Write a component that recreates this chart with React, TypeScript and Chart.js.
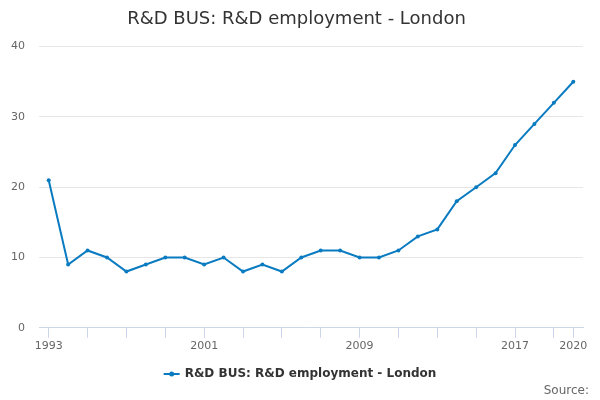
import React, { useEffect, useRef } from "react";
import { Chart, registerables } from "chart.js";

Chart.register(...registerables);

const TITLE = "R&D BUS: R&D employment - London";
const SERIES_NAME = "R&D BUS: R&D employment - London";
const SOURCE_TEXT = "Source:";

const years = [
  1993, 1994, 1995, 1996, 1997, 1998, 1999, 2000, 2001, 2002, 2003, 2004, 2005, 2006,
  2007, 2008, 2009, 2010, 2011, 2012, 2013, 2014, 2015, 2016, 2017, 2018, 2019, 2020,
];
const values = [
  21, 9, 11, 10, 8, 9, 10, 10, 9, 10, 8, 9, 8, 10,
  11, 11, 10, 10, 11, 13, 14, 18, 20, 22, 26, 29, 32, 35,
];
const tickYears = [
  1993, 1995, 1997, 1999, 2001, 2003, 2005, 2007, 2009, 2011, 2013, 2015, 2017, 2019, 2020,
];
const labelYears = [1993, 2001, 2009, 2017, 2020];
const yTicks = [0, 10, 20, 30, 40];

const LINE_COLOR = "#0a7bc1";
const FONT = "'DejaVu Sans', 'Noto Sans', sans-serif";

const legendSourcePlugin = {
  id: "legendSource",
  afterDraw(chart: any) {
    const ctx = chart.ctx as CanvasRenderingContext2D;
    const w = chart.width;
    const h = chart.height;
    ctx.save();
    ctx.font = `bold 12px ${FONT}`;
    const tw = ctx.measureText(SERIES_NAME).width;
    const symW = 16;
    const gap = 5;
    const total = symW + gap + tw;
    const x0 = w / 2 - total / 2;
    const y = h - 26;
    ctx.strokeStyle = LINE_COLOR;
    ctx.lineWidth = 2;
    ctx.beginPath();
    ctx.moveTo(x0, y);
    ctx.lineTo(x0 + symW, y);
    ctx.stroke();
    ctx.fillStyle = LINE_COLOR;
    ctx.beginPath();
    ctx.arc(x0 + symW / 2, y, 2.5, 0, Math.PI * 2);
    ctx.fill();
    ctx.fillStyle = "#333333";
    ctx.textBaseline = "middle";
    ctx.textAlign = "left";
    ctx.fillText(SERIES_NAME, x0 + symW + gap, y);
    ctx.font = `12px ${FONT}`;
    ctx.fillStyle = "#666666";
    ctx.textAlign = "right";
    ctx.fillText(SOURCE_TEXT, w - 11, h - 9);
    ctx.restore();
  },
};

export default function App() {
  const ref = useRef<HTMLCanvasElement | null>(null);

  useEffect(() => {
    document.body.style.margin = "0";
    const canvas = ref.current;
    if (!canvas) return;
    const chart = new Chart(canvas, {
      type: "line",
      data: {
        datasets: [
          {
            label: SERIES_NAME,
            data: years.map((yr, i) => ({ x: yr, y: values[i] })),
            borderColor: LINE_COLOR,
            backgroundColor: LINE_COLOR,
            borderWidth: 2,
            pointRadius: 2,
            pointBorderWidth: 0,
            pointBackgroundColor: LINE_COLOR,
            tension: 0,
          },
        ],
      },
      options: {
        animation: false,
        responsive: false,
        maintainAspectRatio: false,
        layout: { padding: { left: 10, right: 17, top: 0, bottom: 45 } },
        plugins: {
          legend: { display: false },
          tooltip: { enabled: false },
          title: {
            display: true,
            text: TITLE,
            color: "#333333",
            font: { family: FONT, size: 18, weight: "normal" },
            padding: { top: 9, bottom: 16 },
          },
        },
        scales: {
          x: {
            type: "linear",
            min: years[0] - 0.5,
            max: years[years.length - 1] + 0.5,
            afterBuildTicks: (axis: any) => {
              axis.ticks = tickYears.map((v) => ({ value: v }));
            },
            ticks: {
              autoSkip: false,
              maxRotation: 0,
              padding: 2,
              color: "#666666",
              font: { family: FONT, size: 11 },
              callback: (v: any) => (labelYears.includes(Number(v)) ? String(v) : ""),
            },
            grid: {
              drawOnChartArea: false,
              color: "#ccd6eb",
              tickLength: 10,
            },
            border: { color: "#ccd6eb", width: 1 },
          },
          y: {
            min: 0,
            max: 40,
            afterBuildTicks: (axis: any) => {
              axis.ticks = yTicks.map((v) => ({ value: v }));
            },
            afterFit: (axis: any) => {
              axis.width = 29;
            },
            ticks: {
              padding: 14,
              color: "#666666",
              font: { family: FONT, size: 11 },
            },
            grid: { color: "#e6e6e6", drawTicks: false },
            border: { display: false },
          },
        },
      },
      plugins: [legendSourcePlugin],
    });
    return () => chart.destroy();
  }, []);

  return <canvas ref={ref} width={600} height={400} style={{ display: "block" }} />;
}
